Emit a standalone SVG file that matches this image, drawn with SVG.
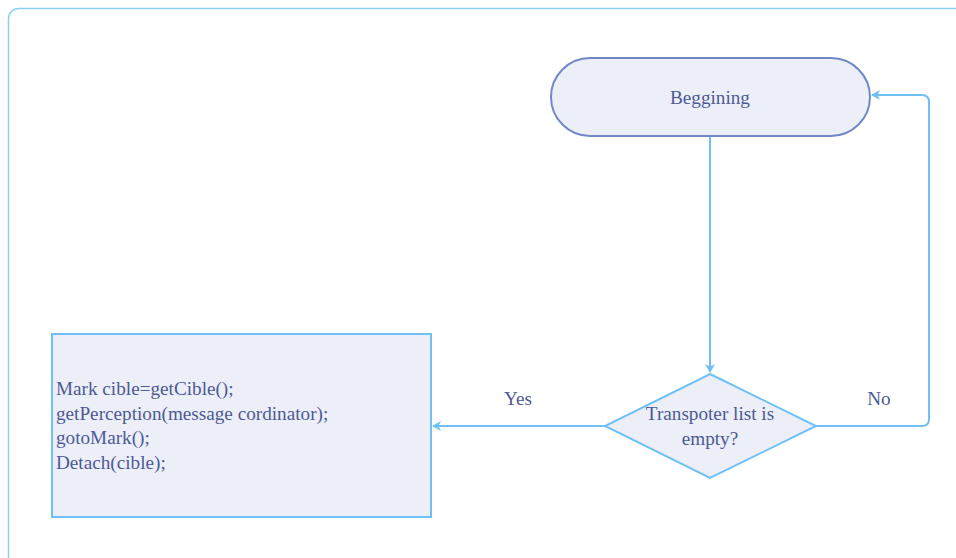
<svg xmlns="http://www.w3.org/2000/svg" width="956" height="558" viewBox="0 0 956 558">
<defs>
<style>
.t{font-family:"Liberation Serif","Times New Roman",serif;font-size:19.2px;fill:#4d5a94}
.c{fill:none;stroke:#6ec0f5;stroke-width:2}
</style>
<marker id="ah" markerWidth="10" markerHeight="10" refX="8" refY="5" orient="auto" markerUnits="userSpaceOnUse">
<path d="M0,0 L9,5 L0,10 L2.5,5 Z" fill="#6ec0f5"/>
</marker>
</defs>
<rect x="8.5" y="8.5" width="980" height="570" rx="10" fill="#fff" stroke="#8fcff7" stroke-width="1.5"/>
<g id="connectors">
<path class="c" d="M710,136 L710,372" marker-end="url(#ah)"/>
<path class="c" d="M605,426 L433,426" marker-end="url(#ah)"/>
<path class="c" d="M816,426 L922,426 Q929,426 929,419 L929,102 Q929,95 922,95 L872,95" marker-end="url(#ah)"/>
<text class="t" x="518" y="405" text-anchor="middle">Yes</text>
<text class="t" x="879" y="405" text-anchor="middle">No</text>
</g>
<g id="start">
<rect x="551" y="58" width="319" height="78" rx="39" fill="#eceef8" stroke="#7088c6" stroke-width="2"/>
<text class="t" x="710" y="104" text-anchor="middle">Beggining</text>
</g>
<g id="decision">
<polygon points="710,374 816,426 710,478 605,426" fill="#eceef8" stroke="#6ec0f5" stroke-width="2"/>
<text class="t" x="710" y="420" text-anchor="middle">Transpoter list is</text>
<text class="t" x="710" y="445" text-anchor="middle">empty?</text>
</g>
<g id="action">
<rect x="52" y="334" width="379" height="183" fill="#eceef8" stroke="#6ec0f5" stroke-width="2"/>
<text class="t" x="56" y="395">Mark cible=getCible();</text>
<text class="t" x="56" y="419.5">getPerception(message cordinator);</text>
<text class="t" x="56" y="444">gotoMark();</text>
<text class="t" x="56" y="468.5">Detach(cible);</text>
</g>
</svg>
